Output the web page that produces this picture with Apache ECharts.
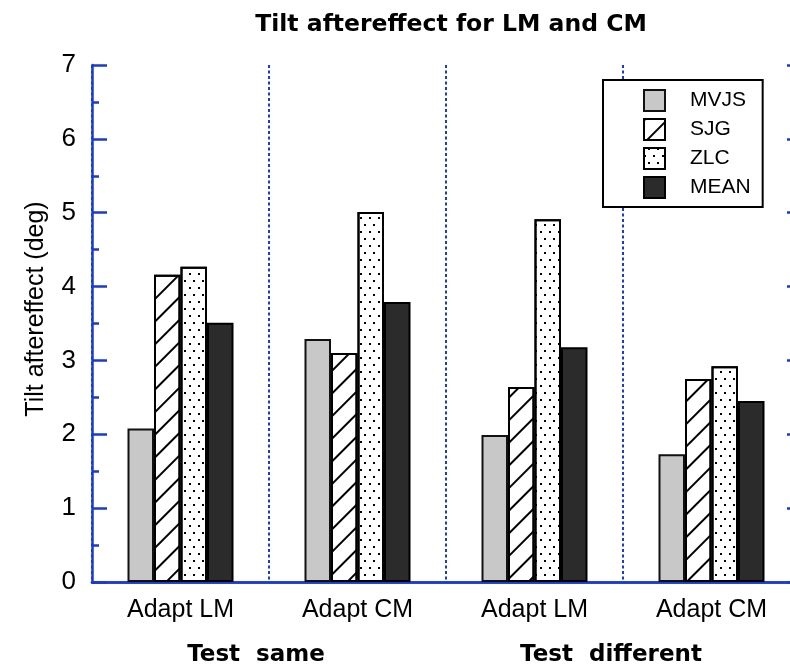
<!DOCTYPE html>
<html>
<head>
<meta charset="utf-8">
<script src="https://cdn.jsdelivr.net/npm/echarts@6/dist/echarts.min.js"></script>
<style>html,body{margin:0;padding:0;background:#fff;overflow:hidden;}#c{width:790px;height:666px;}</style>
</head>
<body>
<div id="c"></div>
<script>
var categories = ['Adapt LM', 'Adapt CM', 'Adapt LM', 'Adapt CM'];
var groupLabels = ['Test  same', 'Test  different'];
var seriesNames = ['MVJS', 'SJG', 'ZLC', 'MEAN'];
var mvjs = [2.08, 3.29, 1.99, 1.73];
var sjg  = [4.16, 3.10, 2.64, 2.75];
var zlc  = [4.27, 5.01, 4.91, 2.92];
var mean = [3.51, 3.79, 3.18, 2.45];
var yMin = 0, yMax = 7, yInterval = 1;

var BLUE = '#1a3ad6';
var chart = echarts.init(document.getElementById('c'), null, {renderer: 'canvas'});

function barSeries(name, data, style) {
  return {
    name: name, type: 'bar', data: data,
    barWidth: 26.5, barGap: '0%',
    itemStyle: style,
    emphasis: {disabled: true},
    xAxisIndex: 0, yAxisIndex: 0
  };
}

var option = {
  animation: false,
  backgroundColor: '#fff',
  title: {
    text: 'Tilt aftereffect for LM and CM',
    left: 446, top: 8, textAlign: 'center',
    textStyle: {fontFamily: 'DejaVu Sans', fontWeight: 'bold', fontSize: 23.5, color: '#000'}
  },
  grid: {left: 92, top: 65, width: 708, height: 517, containLabel: false, outerBoundsMode: 'none'},
  legend: {
    orient: 'vertical', left: 603, top: 80,
    data: seriesNames,
    backgroundColor: '#fff',
    borderColor: '#000', borderWidth: 2,
    padding: [9, 12, 8, 40],
    itemWidth: 21, itemHeight: 21, itemGap: 6,
    icon: 'rect',
    textStyle: {fontFamily: 'Liberation Sans', fontSize: 21, color: '#000', padding: [0, 0, 0, 20]}
  },
  xAxis: [{
    type: 'category', data: categories, position: 'bottom',
    axisLine: {lineStyle: {color: BLUE, width: 2.5}},
    axisTick: {show: false},
    axisLabel: {fontFamily: 'Liberation Sans', fontSize: 25, color: '#000', margin: 16},
    splitLine: {show: true, lineStyle: {color: BLUE, width: 2, type: [3, 2.5]}}
  }, {
    type: 'category', data: categories, position: 'top',
    axisLine: {lineStyle: {color: BLUE, width: 2.5}},
    axisTick: {show: false}, axisLabel: {show: false}, splitLine: {show: false}
  }],
  yAxis: [{
    type: 'value', min: yMin, max: yMax, interval: yInterval, position: 'left',
    axisLine: {show: true, lineStyle: {color: BLUE, width: 2.5}},
    axisTick: {show: true, inside: true, length: 15, lineStyle: {color: BLUE, width: 2.5}},
    minorTick: {show: true, splitNumber: 2, length: 7, lineStyle: {color: BLUE, width: 2.5}},
    axisLabel: {fontFamily: 'Liberation Sans', fontSize: 26, color: '#000', margin: 16},
    splitLine: {show: false}
  }, {
    type: 'value', min: yMin, max: yMax, interval: yInterval, position: 'right',
    axisLine: {show: true, lineStyle: {color: BLUE, width: 2.5}},
    axisTick: {show: true, inside: true, length: 13, lineStyle: {color: BLUE, width: 2.5}},
    axisLabel: {show: false}, splitLine: {show: false}
  }],
  graphic: [
    {type: 'text', x: 36, y: 309, rotation: Math.PI / 2,
     style: {text: 'Tilt aftereffect (deg)', font: '25px "Liberation Sans"', fill: '#000', align: 'center', verticalAlign: 'middle'}},
    {type: 'text', x: 256, y: 655,
     style: {text: groupLabels[0], font: 'bold 23px "DejaVu Sans"', fill: '#000', align: 'center', verticalAlign: 'middle'}},
    {type: 'text', x: 611, y: 655,
     style: {text: groupLabels[1], font: 'bold 23px "DejaVu Sans"', fill: '#000', align: 'center', verticalAlign: 'middle'}}
  ],
  series: [
    barSeries(seriesNames[0], mvjs, {color: '#c8c8c8', borderColor: '#111', borderWidth: 2}),
    barSeries(seriesNames[1], sjg, {
      color: '#fff', borderColor: '#000', borderWidth: 2,
      decal: {symbol: 'rect', symbolSize: 1, color: '#000', dashArrayX: [1, 0], dashArrayY: [1.6, 14], rotation: -Math.PI / 4}
    }),
    barSeries(seriesNames[2], zlc, {
      color: '#fff', borderColor: '#000', borderWidth: 2,
      decal: {symbol: 'rect', symbolSize: 1, color: '#000', dashArrayX: [[2, 7], [0, 4, 2, 3]], dashArrayY: [2, 5], rotation: 0}
    }),
    barSeries(seriesNames[3], mean, {color: '#2b2b2b', borderColor: '#000', borderWidth: 2})
  ]
};
chart.setOption(option);
</script>
</body>
</html>
